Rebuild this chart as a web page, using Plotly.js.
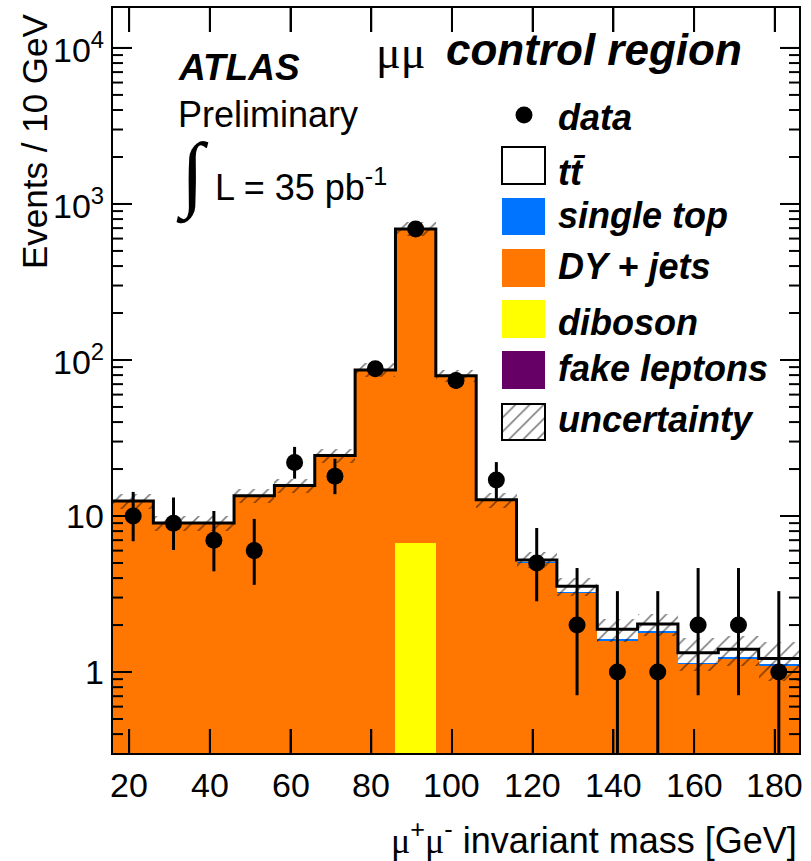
<!DOCTYPE html>
<html>
<head>
<meta charset="utf-8">
<script src="https://cdn.plot.ly/plotly-3.0.1.min.js"></script>
<style>html,body{margin:0;padding:0;background:#fff;}</style>
</head>
<body>
<div id="chart" style="width:811px;height:861px;"></div>
<script>
// ---- data (10 GeV bins, 16..186 GeV) ----
const binCenters = [21, 31, 41, 51, 61, 71, 81, 91, 101, 111, 121, 131, 141, 151, 161, 171, 181];
const binEdges   = [16, 26, 36, 46, 56, 66, 76, 86, 96, 106, 116, 126, 136, 146, 156, 166, 176, 186];
const fakeLeptons = [0.02,0.02,0.02,0.02,0.02,0.02,0.02,0.1,0.02,0.02,0.01,0.01,0.01,0.01,0.01,0.01,0.01];
const diboson     = [0.05,0.05,0.05,0.06,0.07,0.1,0.18,6.6,0.2,0.12,0.08,0.07,0.06,0.06,0.05,0.05,0.04];
const dyJets      = [12.2,8.8,8.8,13.2,15.4,24.0,85.5,683,78.4,12.3,4.9,3.15,1.52,1.72,1.06,1.16,1.04];
const singleTop   = [0.05,0.04,0.04,0.05,0.05,0.06,0.08,0.3,0.1,0.05,0.05,0.04,0.03,0.03,0.03,0.03,0.03];
const ttbar       = [0.15,0.11,0.11,0.15,0.15,0.24,0.52,1.7,0.6,0.2,0.19,0.28,0.26,0.21,0.18,0.15,0.10];
const uncertainty = [1.3,0.95,0.95,1.4,1.6,2.5,9,70,7.5,1.4,0.62,0.46,0.32,0.34,0.32,0.30,0.34];
const dataCounts  = [10, 9, 7, 6, 22, 18, 88, 690, 74, 17, 5, 2, 1, 1, 2, 2, 1];
const dataErrUp   = [4.27,4.14,3.77,3.58,5.73,5.29,10.4,26.8,9.6,5.16,3.38,2.64,2.30,2.30,2.64,2.64,2.30];
const dataErrDown = [3.11,2.94,2.58,2.38,4.65,4.20,9.4,26.3,8.6,4.08,2.16,1.29,0.83,0.83,1.29,1.29,0.83];
const yTickVals = [1, 10, 100, 1000, 10000];
const yTickText = ["1", "10", "10<sup>2</sup>", "10<sup>3</sup>", "10<sup>4</sup>"];
const yMinorTicks = [0.4,0.5,0.6,0.7,0.8,0.9, 2,3,4,5,6,7,8,9, 20,30,40,50,60,70,80,90,
                     200,300,400,500,600,700,800,900, 2000,3000,4000,5000,6000,7000,8000,9000];
const xTickVals = [20, 40, 60, 80, 100, 120, 140, 160, 180];
const legendLabels = ["data", "tt\u0304", "single top", "DY + jets", "diboson", "fake leptons", "uncertainty"];

// ---- cumulative stacks ----
const cFake = fakeLeptons.slice();
const cDib = cFake.map((v,i)=>v+diboson[i]);
const cDY  = cDib.map((v,i)=>v+dyJets[i]);
const cST  = cDY.map((v,i)=>v+singleTop[i]);
const cTot = cST.map((v,i)=>v+ttbar[i]);
const stepY = cTot.concat([cTot[cTot.length-1]]);
const uncBase = cTot.map((v,i)=>v-uncertainty[i]);
const uncSpan = uncertainty.map(u=>2*u);

const C_ORANGE = '#ff7700', C_BLUE = '#0073ff', C_YELLOW = '#ffff00', C_PURPLE = '#660066';
const SANS = 'Liberation Sans, Arial, Helvetica, sans-serif';
const SERIF = 'Liberation Serif, Times New Roman, serif';
const HATCH = {shape: '/', fgcolor: '#000', bgcolor: 'rgba(0,0,0,0)', size: 10, solidity: 0.16, fillmode: 'overlay'};

// pixel geometry of the plot area (113..799 x 8..753)
const L = 113, R = 799, T = 8, B = 753;
const YR = [-0.519, 4.256], XR = [16, 186];
const PX = x => (x - L) / (R - L);
const PY = y => (B - y) / (B - T);
const pxPerDecade = (B - T) / (YR[1] - YR[0]);
const pxPerGeV = (R - L) / (XR[1] - XR[0]);

// ROOT-style inside tick marks, drawn as error bars anchored on the frame
const yLo = Math.pow(10, YR[0]), yHi = Math.pow(10, YR[1]);
const xTickLen = 24 / pxPerDecade;
function xTickTrace(atTop) {
  const yv = atTop ? yHi : yLo;
  const ext = atTop ? yHi - Math.pow(10, YR[1] - xTickLen) : Math.pow(10, YR[0] + xTickLen) - yLo;
  return {type:'scatter', mode:'markers', x: xTickVals, y: xTickVals.map(() => yv),
    marker: {size: 1, opacity: 0}, cliponaxis: false, showlegend: false, hoverinfo: 'skip',
    error_y: {type:'constant', symmetric: false, value: atTop ? 0 : ext, valueminus: atTop ? ext : 0,
              color:'#000', thickness: 2, width: 0}};
}
function yTickTrace(vals, lenPx, atRight) {
  const d = lenPx / pxPerGeV;
  return {type:'scatter', mode:'markers', x: vals.map(() => atRight ? XR[1] : XR[0]), y: vals,
    marker: {size: 1, opacity: 0}, cliponaxis: false, showlegend: false, hoverinfo: 'skip',
    error_x: {type:'constant', symmetric: false, value: atRight ? 0 : d, valueminus: atRight ? d : 0,
              color:'#000', thickness: 2, width: 0}};
}

function barTrace(y, color, name) {
  return {type:'bar', x: binCenters, y: y, width: 10, name: name,
    marker: {color: color, line: {width: 0}}, hoverinfo: 'skip', showlegend: false};
}

const traces = [
  barTrace(cTot, '#ffffff', 'ttbar'),
  barTrace(cST, C_BLUE, 'single top'),
  barTrace(cDY, C_ORANGE, 'DY + jets'),
  barTrace(cDib, C_YELLOW, 'diboson'),
  barTrace(cFake, C_PURPLE, 'fake leptons'),
  {type:'bar', x: binCenters, y: uncSpan, base: uncBase, width: 10, name: 'uncertainty',
   marker: {color: 'rgba(0,0,0,0)', line: {width: 0}, pattern: HATCH},
   showlegend: false, hoverinfo: 'skip'},
  {type:'scatter', mode:'lines', x: binEdges, y: stepY, line: {shape: 'hv', color: '#000', width: 3},
   showlegend: false, hoverinfo: 'skip'},
  xTickTrace(false), xTickTrace(true),
  yTickTrace(yTickVals, 19, false), yTickTrace(yTickVals, 19, true),
  yTickTrace(yMinorTicks, 10, false), yTickTrace(yMinorTicks, 10, true),
  {type:'scatter', mode:'markers', x: binCenters, y: dataCounts, name: 'data',
   marker: {symbol: 'circle', size: 17, color: '#000'},
   error_y: {type: 'data', symmetric: false, array: dataErrUp, arrayminus: dataErrDown,
             color: '#000', thickness: 3, width: 0},
   showlegend: false},
  // legend hatch key
  {type:'bar', x: [0.5], y: [1], width: 1, xaxis: 'x2', yaxis: 'y2',
   marker: {color: 'rgba(0,0,0,0)', line: {width: 0}, pattern: HATCH},
   showlegend: false, hoverinfo: 'skip'}
];

const shapes = [];
const annotations = [];
function ann(text, x, y, size, opts) {
  annotations.push(Object.assign({text: text, xref: 'paper', yref: 'paper', x: PX(x), y: PY(y),
    xanchor: 'left', yanchor: 'middle', showarrow: false,
    font: {family: SANS, size: size, color: '#000'}}, opts || {}));
}

// tick labels placed along the data axes
xTickVals.forEach(v => annotations.push({text: String(v), xref: 'x', yref: 'paper', x: v, y: PY(785),
  xanchor: 'center', yanchor: 'middle', showarrow: false, font: {family: SANS, size: 34, color: '#000'}}));
yTickVals.forEach((v, i) => annotations.push({text: yTickText[i], xref: 'paper', yref: 'y', x: PX(106), y: Math.log10(v),
  xanchor: 'right', yanchor: 'middle', showarrow: false, font: {family: SANS, size: 34, color: '#000'}}));

// Legend
shapes.push({type:'circle', xref:'paper', yref:'paper', x0: PX(515.5), x1: PX(532.5), y0: PY(123.5), y1: PY(106.5),
  fillcolor:'#000', line:{width:0}});
const boxes = [
  [147, 184, '#ffffff', 2],
  [198, 235, C_BLUE, 0],
  [249, 287, C_ORANGE, 0],
  [300, 338, C_YELLOW, 0],
  [351, 389, C_PURPLE, 0],
  [404, 440, 'rgba(0,0,0,0)', 2]
];
boxes.forEach(b => {
  shapes.push({type:'rect', xref:'paper', yref:'paper', x0: PX(502), x1: PX(545), y0: PY(b[1]), y1: PY(b[0]),
    fillcolor: b[2], line: {width: b[3], color: '#000'}});
});
const legY = [117, 172, 216, 266, 322, 369, 419];
legendLabels.forEach((t, i) => ann('<b><i>' + t + '</i></b>', 556, legY[i], 36));

// Labels
ann('<b><i>ATLAS</i></b>', 176, 67, 37);
ann('Preliminary', 176, 115, 36);
ann('\u222B', 174, 175, 84, {font: {family: SERIF, size: 84, color: '#000'}});
ann('L = 35 pb<sup>-1</sup>', 213, 185, 36);
ann('\u03BC\u03BC', 374, 52, 46, {font: {family: SERIF, size: 46, color: '#000'}});
ann('<b><i>control region</i></b>', 444, 50, 44);
// axis titles
ann('Events / 10 GeV', 34, 141, 35, {xanchor: 'center', textangle: -90});
ann('<span style="font-family:Liberation Serif">\u03BC</span><sup>+</sup><span style="font-family:Liberation Serif">\u03BC</span><sup>-</sup> invariant mass [GeV]',
    799, 838, 36, {xanchor: 'right'});

const layout = {
  width: 811, height: 861,
  margin: {l: L, r: 811 - R, t: T, b: 861 - B, pad: 0},
  paper_bgcolor: '#fff', plot_bgcolor: '#fff',
  barmode: 'overlay', bargap: 0, showlegend: false,
  font: {family: SANS, color: '#000'},
  xaxis: {range: XR, tickmode: 'array', tickvals: xTickVals, ticks: 'inside', ticklen: 24, tickwidth: 2,
    tickcolor: '#000', showline: true, linecolor: '#000', linewidth: 2, mirror: 'ticks', showgrid: false,
    zeroline: false, showticklabels: false, layer: 'above traces'},
  yaxis: {type: 'log', range: YR, tickmode: 'array', tickvals: yTickVals, ticks: 'inside', ticklen: 19,
    tickwidth: 2, tickcolor: '#000', showline: true, linecolor: '#000', linewidth: 2,
    mirror: 'ticks', showgrid: false, zeroline: false, showticklabels: false, layer: 'above traces'},
  xaxis2: {domain: [PX(502), PX(545)], range: [0, 1], visible: false, fixedrange: true, anchor: 'y2'},
  yaxis2: {domain: [PY(440), PY(404)], range: [0, 1], visible: false, fixedrange: true, anchor: 'x2'},
  shapes: shapes,
  annotations: annotations
};

Plotly.newPlot('chart', traces, layout, {displayModeBar: false, staticPlot: true});
</script>
</body>
</html>
